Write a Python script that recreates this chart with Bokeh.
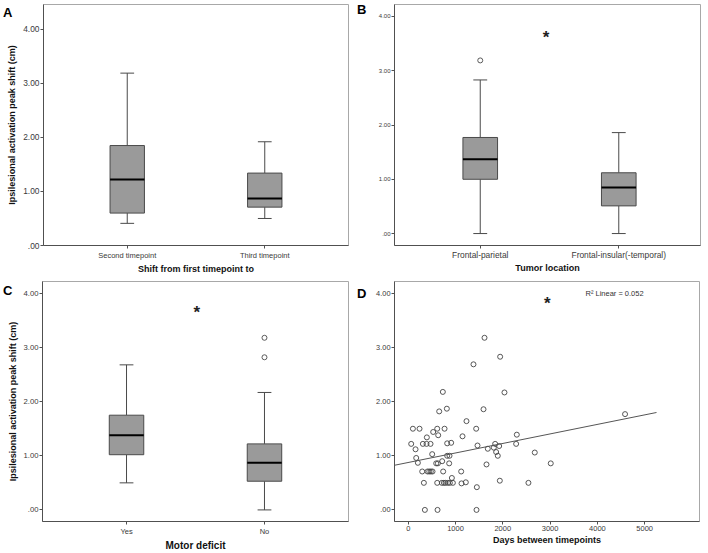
from bokeh.plotting import figure
from bokeh.models import Range1d, FixedTicker, Label, ColumnDataSource, LinearAxis
from bokeh.layouts import column, row
from bokeh.embed import file_html
from bokeh.resources import INLINE
from bokeh.core.properties import value

FONT = "Liberation Sans"

# ---------------- data ----------------
A_cats = ["Second timepoint", "Third timepoint"]
A_low = [0.41, 0.50]
A_q1 = [0.60, 0.71]
A_med = [1.22, 0.87]
A_q3 = [1.85, 1.34]
A_high = [3.19, 1.92]
A_out_cat = []
A_out_val = []

B_cats = ["Frontal-parietal", "Frontal-insular(-temporal)"]
B_low = [0.00, 0.00]
B_q1 = [1.00, 0.51]
B_med = [1.37, 0.85]
B_q3 = [1.77, 1.12]
B_high = [2.83, 1.86]
B_out_cat = [1]
B_out_val = [3.19]

C_cats = ["Yes", "No"]
C_low = [0.50, 0.00]
C_q1 = [1.02, 0.53]
C_med = [1.38, 0.87]
C_q3 = [1.75, 1.22]
C_high = [2.68, 2.17]
C_out_cat = [2, 2]
C_out_val = [3.18, 2.82]

D_days = [1613, 1944, 1380, 732, 2035, 817, 1592, 655, 4585, 1232,
          99, 239, 613, 768, 1437, 528, 394, 634, 1148, 2296,
          63, 310, 387, 472, 824, 908, 1465, 1683, 1838, 1923,
          1810, 2282, 155, 169, 204, 507, 824, 873, 718, 592,
          627, 866, 1859, 1894, 2676, 1655, 3014, 296, 408, 444,
          479, 514, 739, 1120, 923, 331, 613, 711, 754, 789,
          838, 880, 944, 1127, 1218, 1937, 2542, 1451, 352, 620, 1444]
D_shift = [3.18, 2.83, 2.69, 2.18, 2.17, 1.87, 1.86, 1.82, 1.77, 1.64,
           1.50, 1.50, 1.50, 1.50, 1.50, 1.44, 1.34, 1.38, 1.36, 1.39,
           1.22, 1.22, 1.22, 1.22, 1.23, 1.24, 1.19, 1.13, 1.22, 1.18,
           1.15, 1.22, 1.12, 0.96, 0.87, 1.03, 1.00, 1.00, 0.90, 0.86,
           0.86, 0.86, 1.07, 1.00, 1.06, 0.84, 0.86, 0.71, 0.71, 0.71,
           0.71, 0.71, 0.71, 0.71, 0.59, 0.50, 0.50, 0.50, 0.50, 0.50,
           0.50, 0.50, 0.50, 0.49, 0.51, 0.54, 0.50, 0.42, 0.00, 0.00, 0.00]
fit_intercept = 0.876
fit_slope = 0.000176
fit_x = [-290, 5250]
r2_text = "R\u00b2 Linear = 0.052"

y_ticks = [0, 1, 2, 3, 4]
y_tick_labels = [".00", "1.00", "2.00", "3.00", "4.00"]
D_x_ticks = [0, 1000, 2000, 3000, 4000, 5000]

Y_TITLE = "Ipsilesional activation peak shift (cm)"

BOX_FILL = "#9a9a9a"
BOX_LINE = "#4a4a4a"
AXIS_LINE = "#505050"
FRAME_LINE = "#a8a8a8"
TICK_TEXT = "#3a3a3a"


def base_fig(width, height, xr, yr, borders):
    left, right, top, bottom = borders
    p = figure(width=width, height=height, x_range=Range1d(*xr), y_range=Range1d(*yr),
               output_backend="svg", toolbar_location=None,
               min_border_left=left, min_border_right=right,
               min_border_top=top, min_border_bottom=bottom)
    p.grid.visible = False
    p.outline_line_color = FRAME_LINE
    p.outline_line_width = 1
    p.background_fill_color = "white"
    p.border_fill_color = "white"
    for ax in (p.xaxis[0], p.yaxis[0]):
        ax.axis_line_color = AXIS_LINE
        ax.major_tick_line_color = AXIS_LINE
        ax.minor_tick_line_color = None
        ax.major_tick_in = 0
        ax.major_tick_out = 3
        ax.major_label_text_font = FONT
        ax.major_label_text_color = TICK_TEXT
        ax.axis_label_text_font = FONT
        ax.axis_label_text_font_style = "bold"
        ax.axis_label_text_color = "#111111"
    p.yaxis.ticker = FixedTicker(ticks=y_ticks)
    p.yaxis.major_label_overrides = dict(zip(y_ticks, y_tick_labels))
    return p


def box_panel(cats, low, q1, med, q3, high, out_cat, out_val, xr, yr, borders,
              width, height, xtitle, ytitle, ylab_size, xlab_size, xtitle_size):
    p = base_fig(width, height, xr, yr, borders)
    pos = [i + 1 for i in range(len(cats))]
    src = ColumnDataSource(dict(x=pos, low=low, q1=q1, med=med, q3=q3, high=high))
    bw = 0.25
    cw = 0.1
    p.segment(x0="x", y0="q3", x1="x", y1="high", source=src, line_color=BOX_LINE, line_width=1)
    p.segment(x0="x", y0="low", x1="x", y1="q1", source=src, line_color=BOX_LINE, line_width=1)
    p.vbar(x="x", bottom="q1", top="q3", width=bw, source=src, fill_color=BOX_FILL,
           line_color=BOX_LINE, line_width=1)
    cx0 = [x - cw / 2 for x in pos]
    cx1 = [x + cw / 2 for x in pos]
    p.segment(x0=cx0, y0=high, x1=cx1, y1=high, line_color=BOX_LINE, line_width=1)
    p.segment(x0=cx0, y0=low, x1=cx1, y1=low, line_color=BOX_LINE, line_width=1)
    mx0 = [x - bw / 2 for x in pos]
    mx1 = [x + bw / 2 for x in pos]
    p.segment(x0=mx0, y0=med, x1=mx1, y1=med, line_color="#000000", line_width=2)
    if out_cat:
        p.scatter(x=out_cat, y=out_val, marker="circle", size=5, fill_color=None,
                  line_color=BOX_LINE, line_width=0.9)
    p.xaxis.ticker = FixedTicker(ticks=pos)
    p.xaxis.major_label_overrides = dict(zip(pos, cats))
    p.xaxis.axis_label = xtitle
    p.xaxis.axis_label_text_font_size = xtitle_size
    p.xaxis.major_label_text_font_size = xlab_size
    p.xaxis.major_label_standoff = 2
    p.xaxis.axis_label_standoff = 1
    p.yaxis.major_label_text_font_size = ylab_size
    p.yaxis.major_label_standoff = 1
    if ytitle:
        p.yaxis.axis_label = ytitle
        p.yaxis.axis_label_text_font_size = "9px"
        p.yaxis.axis_label_standoff = 3
    return p


def letter(p, txt, yval, standoff):
    # panel letter drawn as the single label of an extra, invisible left axis
    ax = LinearAxis(ticker=FixedTicker(ticks=[yval]),
                    major_label_overrides={yval: txt},
                    axis_line_color=None, major_tick_line_color=None,
                    minor_tick_line_color=None, major_tick_in=0, major_tick_out=0,
                    major_label_standoff=standoff,
                    major_label_text_font=FONT, major_label_text_font_style="bold",
                    major_label_text_font_size="13px", major_label_text_color="#000000")
    p.add_layout(ax, "left")


def star(p, x, y):
    p.text(x=[x], y=[y], text=["*"], text_font=value(FONT), text_font_style="bold",
           text_font_size="17px", text_align="center", text_baseline="middle",
           text_color="#222222", y_offset=3)


pA = box_panel(A_cats, A_low, A_q1, A_med, A_q3, A_high, A_out_cat, A_out_val,
               (0.391, 2.609), (0.0, 4.46), (42, 6, 4, 28), 354, 276,
               "Shift from first timepoint to", Y_TITLE, "8.4px", "7.5px", "9px")
letter(pA, "A", 4.32, -8)

pB = box_panel(B_cats, B_low, B_q1, B_med, B_q3, B_high, B_out_cat, B_out_val,
               (0.381, 2.59), (-0.22, 4.22), (39, 8, 4, 26), 354, 276,
               "Tumor location", None, "6px", "8.4px", "9px")
pB.xaxis.major_label_standoff = 1
pB.xaxis.axis_label_standoff = 0
letter(pB, "B", 4.12, 9)
star(pB, 1.475, 3.66)

pC = box_panel(C_cats, C_low, C_q1, C_med, C_q3, C_high, C_out_cat, C_out_val,
               (0.391, 2.609), (-0.214, 4.22), (42, 6, 5, 29), 354, 277,
               "Motor deficit", Y_TITLE, "7.7px", "7.5px", "10px")
letter(pC, "C", 4.05, -8)
star(pC, 1.51, 3.70)

# Panel D scatter
pD = base_fig(354, 277, (-290, 6159), (-0.214, 4.22), (40, 9, 5, 29))
pD.scatter(x=D_days, y=D_shift, marker="circle", size=5, fill_color=None,
           line_color="#444444", line_width=0.9)
fit_y = [fit_intercept + fit_slope * x for x in fit_x]
pD.line(x=fit_x, y=fit_y, line_color="#555555", line_width=1)
pD.xaxis.ticker = FixedTicker(ticks=D_x_ticks)
pD.xaxis.axis_label = "Days between timepoints"
pD.xaxis.axis_label_text_font_size = "9px"
pD.xaxis.major_label_text_font_size = "7.5px"
pD.xaxis.major_label_standoff = 1
pD.xaxis.axis_label_standoff = 1
pD.yaxis.major_label_text_font_size = "7.4px"
pD.yaxis.major_label_standoff = 1
pD.add_layout(Label(x=3748, y=3.99, text=r2_text, text_font=FONT, text_font_size="7.5px",
                    text_align="left", text_baseline="middle", text_color="#333333"))
letter(pD, "D", 4.0, 7)
star(pD, 2939, 3.86)

layout = column(row(pA, pB), row(pC, pD))
open("out.html", "w").write(file_html(layout, INLINE))
